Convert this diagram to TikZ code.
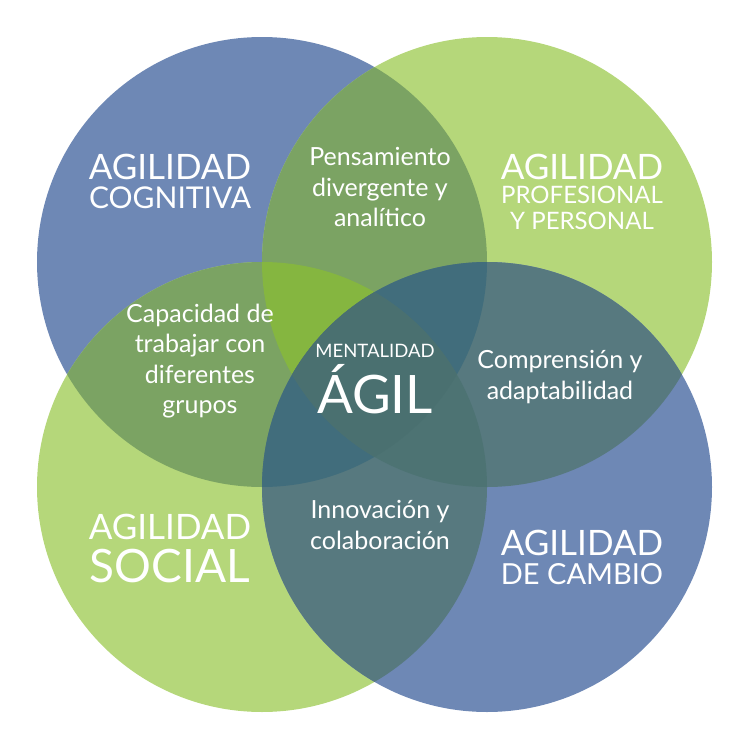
\documentclass[tikz,border=0pt]{standalone}
\usepackage{fontspec}
\setmainfont{Lato}
\definecolor{bluec}{HTML}{6E88B5}
\definecolor{greenc}{HTML}{B5D77A}
\definecolor{olive}{HTML}{7BA363}
\definecolor{tealc}{HTML}{57797F}
\definecolor{brightg}{HTML}{85B640}
\definecolor{deept}{HTML}{416D7C}
\definecolor{midt}{HTML}{4D7373}
\definecolor{coret}{HTML}{4A7070}
\begin{document}
\begin{tikzpicture}[x=1pt, y=-1pt,
  lbl/.style={text=white, align=center, font=\fontsize{25}{30.5}\selectfont},
  head/.style={text=white, inner sep=0pt}]
  \useasboundingbox (0,0) rectangle (750,750);
  % the four circles
  \def\TL{(262,262) circle (225)}
  \def\TR{(487,262) circle (225)}
  \def\BL{(262,487) circle (225)}
  \def\BR{(487,487) circle (225)}
  \fill[bluec] \TL;
  \fill[greenc] \TR;
  \fill[greenc] \BL;
  \fill[bluec] \BR;
  % overlaps
  \begin{scope}\clip \TL; \fill[olive] \TR; \fill[olive] \BL; \end{scope}
  \begin{scope}\clip \BR; \fill[tealc] \TR; \fill[tealc] \BL; \end{scope}
  \begin{scope}\clip \TL; \clip \TR; \fill[brightg] \BL; \end{scope}
  \begin{scope}\clip \TL; \fill[deept] \BR; \end{scope}
  \begin{scope}\clip \BR; \clip \TR; \fill[midt] \BL; \end{scope}
  \begin{scope}\clip \BR; \clip \TR; \clip \BL; \fill[coret] \TL; \end{scope}
  % headings
  \node[head, font=\fontsize{35}{36}\selectfont] (cogA) at (170,167) {AGILIDAD};
  \node[head, font=\fontsize{30}{31}\selectfont] (cogB) at (170,198) {COGNITIVA};
  \node[head, font=\fontsize{35}{36}\selectfont] (proA) at (582,167) {AGILIDAD};
  \node[head, font=\fontsize{24}{25}\selectfont] (proB) at (582,195) {PROFESIONAL};
  \node[head, font=\fontsize{24}{25}\selectfont] (proC) at (582,221) {Y PERSONAL};
  \node[head, font=\fontsize{35}{36}\selectfont] (socA) at (170,527) {AGILIDAD};
  \node[head, font=\fontsize{46}{47}\selectfont] (socB) at (170,566) {SOCIAL};
  \node[head, font=\fontsize{35}{36}\selectfont] (camA) at (582,543) {AGILIDAD};
  \node[head, font=\fontsize{29}{30}\selectfont] (camB) at (582,574) {DE CAMBIO};
  % intersection labels
  \node[lbl] (pen) at (380,187) {Pensamiento\\divergente y\\analítico};
  \node[lbl] (cap) at (200,361) {Capacidad de\\trabajar con\\diferentes\\grupos};
  \node[lbl] (com) at (560,377) {Comprensión y\\adaptabilidad};
  \node[lbl] (inn) at (380,525) {Innovación y\\colaboración};
  \node[head, font=\fontsize{18.5}{19}\selectfont] (men) at (375,351) {MENTALIDAD};
  \node[head, font=\fontsize{53}{54}\selectfont] (agil) at (375,389) {ÁGIL};
\end{tikzpicture}
\end{document}
